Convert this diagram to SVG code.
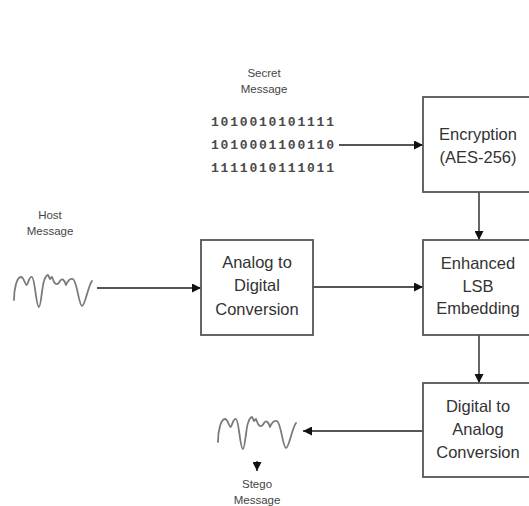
<svg xmlns="http://www.w3.org/2000/svg" width="529" height="506" viewBox="0 0 529 506">
  <style>
    .box { fill: #ffffff; stroke: #555555; stroke-width: 1.8; }
    .lbl { font-family: "Liberation Sans", Arial, sans-serif; font-size: 16.5px; fill: #333333; text-anchor: middle; }
    .small { font-family: "Liberation Sans", Arial, sans-serif; font-size: 11.5px; fill: #444444; text-anchor: middle; }
    .bits { font-family: "Liberation Mono", "Courier New", monospace; font-size: 13px; font-weight: bold; letter-spacing: 1.8px; fill: #4a4a4a; }
    .wire { fill: none; stroke: #555555; stroke-width: 1.8; marker-end: url(#arrow); }
    .wave { fill: none; stroke: #7a7a7a; stroke-width: 1.8; stroke-linejoin: round; stroke-linecap: round; }
  </style>
  <defs>
    <marker id="arrow" markerUnits="userSpaceOnUse" markerWidth="10" markerHeight="9" refX="9" refY="4.5" orient="auto">
      <path d="M0,0 L9,4.5 L0,9 z" fill="#111111"/>
    </marker>
    <!-- analog signal trace, drawn with its top-left near the origin -->
    <path id="signal" class="wave" d="M0,24 C0,12 3,1 7,1 C10,1 11,9 12.5,9 C14,9 15,0 18,1 C21,2 22,31 25,31 C27,31 28,10 30,5 C31,2 32,-1 34,-1 L36,3 L38,1 L40,6 C42,9 44,9 46,5 C48,2 50,3 52,9 C54,4 56,2 59,3 C63,5 65,30 68,30 C71,30 74,10 78,5"/>
  </defs>

  <rect width="529" height="506" fill="#ffffff"/>

  <!-- connectors -->
  <g id="connectors">
    <line class="wire" x1="339" y1="145" x2="423" y2="145"/>
    <line class="wire" x1="479" y1="192" x2="479" y2="240"/>
    <line class="wire" x1="97" y1="288" x2="201" y2="288"/>
    <line class="wire" x1="313" y1="287" x2="423" y2="287"/>
    <line class="wire" x1="479" y1="335" x2="479" y2="383"/>
    <line class="wire" x1="423" y1="431" x2="303" y2="431"/>
    <line class="wire" x1="257" y1="461" x2="257" y2="471"/>
  </g>

  <!-- secret message input -->
  <g id="secret">
    <text class="small" x="264" y="77">Secret</text>
    <text class="small" x="264" y="93">Message</text>
    <text class="bits" x="211" y="126">1010010101111</text>
    <text class="bits" x="211" y="149">1010001100110</text>
    <text class="bits" x="211" y="172">1111010111011</text>
  </g>

  <!-- host message input -->
  <g id="host">
    <text class="small" x="50" y="219">Host</text>
    <text class="small" x="50" y="235">Message</text>
    <use href="#signal" x="14" y="276"/>
  </g>

  <g id="encryption">
    <rect class="box" x="423" y="97" width="112" height="95"/>
    <text class="lbl" x="478" y="140">Encryption</text>
    <text class="lbl" x="478" y="163">(AES-256)</text>
  </g>

  <g id="adc">
    <rect class="box" x="201" y="240" width="112" height="95"/>
    <text class="lbl" x="257" y="268">Analog to</text>
    <text class="lbl" x="257" y="291">Digital</text>
    <text class="lbl" x="257" y="315">Conversion</text>
  </g>

  <g id="embedding">
    <rect class="box" x="423" y="240" width="112" height="95"/>
    <text class="lbl" x="478" y="269">Enhanced</text>
    <text class="lbl" x="478" y="292">LSB</text>
    <text class="lbl" x="478" y="314">Embedding</text>
  </g>

  <g id="dac">
    <rect class="box" x="423" y="383" width="112" height="94"/>
    <text class="lbl" x="478" y="412">Digital to</text>
    <text class="lbl" x="478" y="435">Analog</text>
    <text class="lbl" x="478" y="458">Conversion</text>
  </g>

  <!-- stego message output -->
  <g id="stego">
    <use href="#signal" x="218" y="418"/>
    <text class="small" x="257" y="488">Stego</text>
    <text class="small" x="257" y="504">Message</text>
  </g>
</svg>
